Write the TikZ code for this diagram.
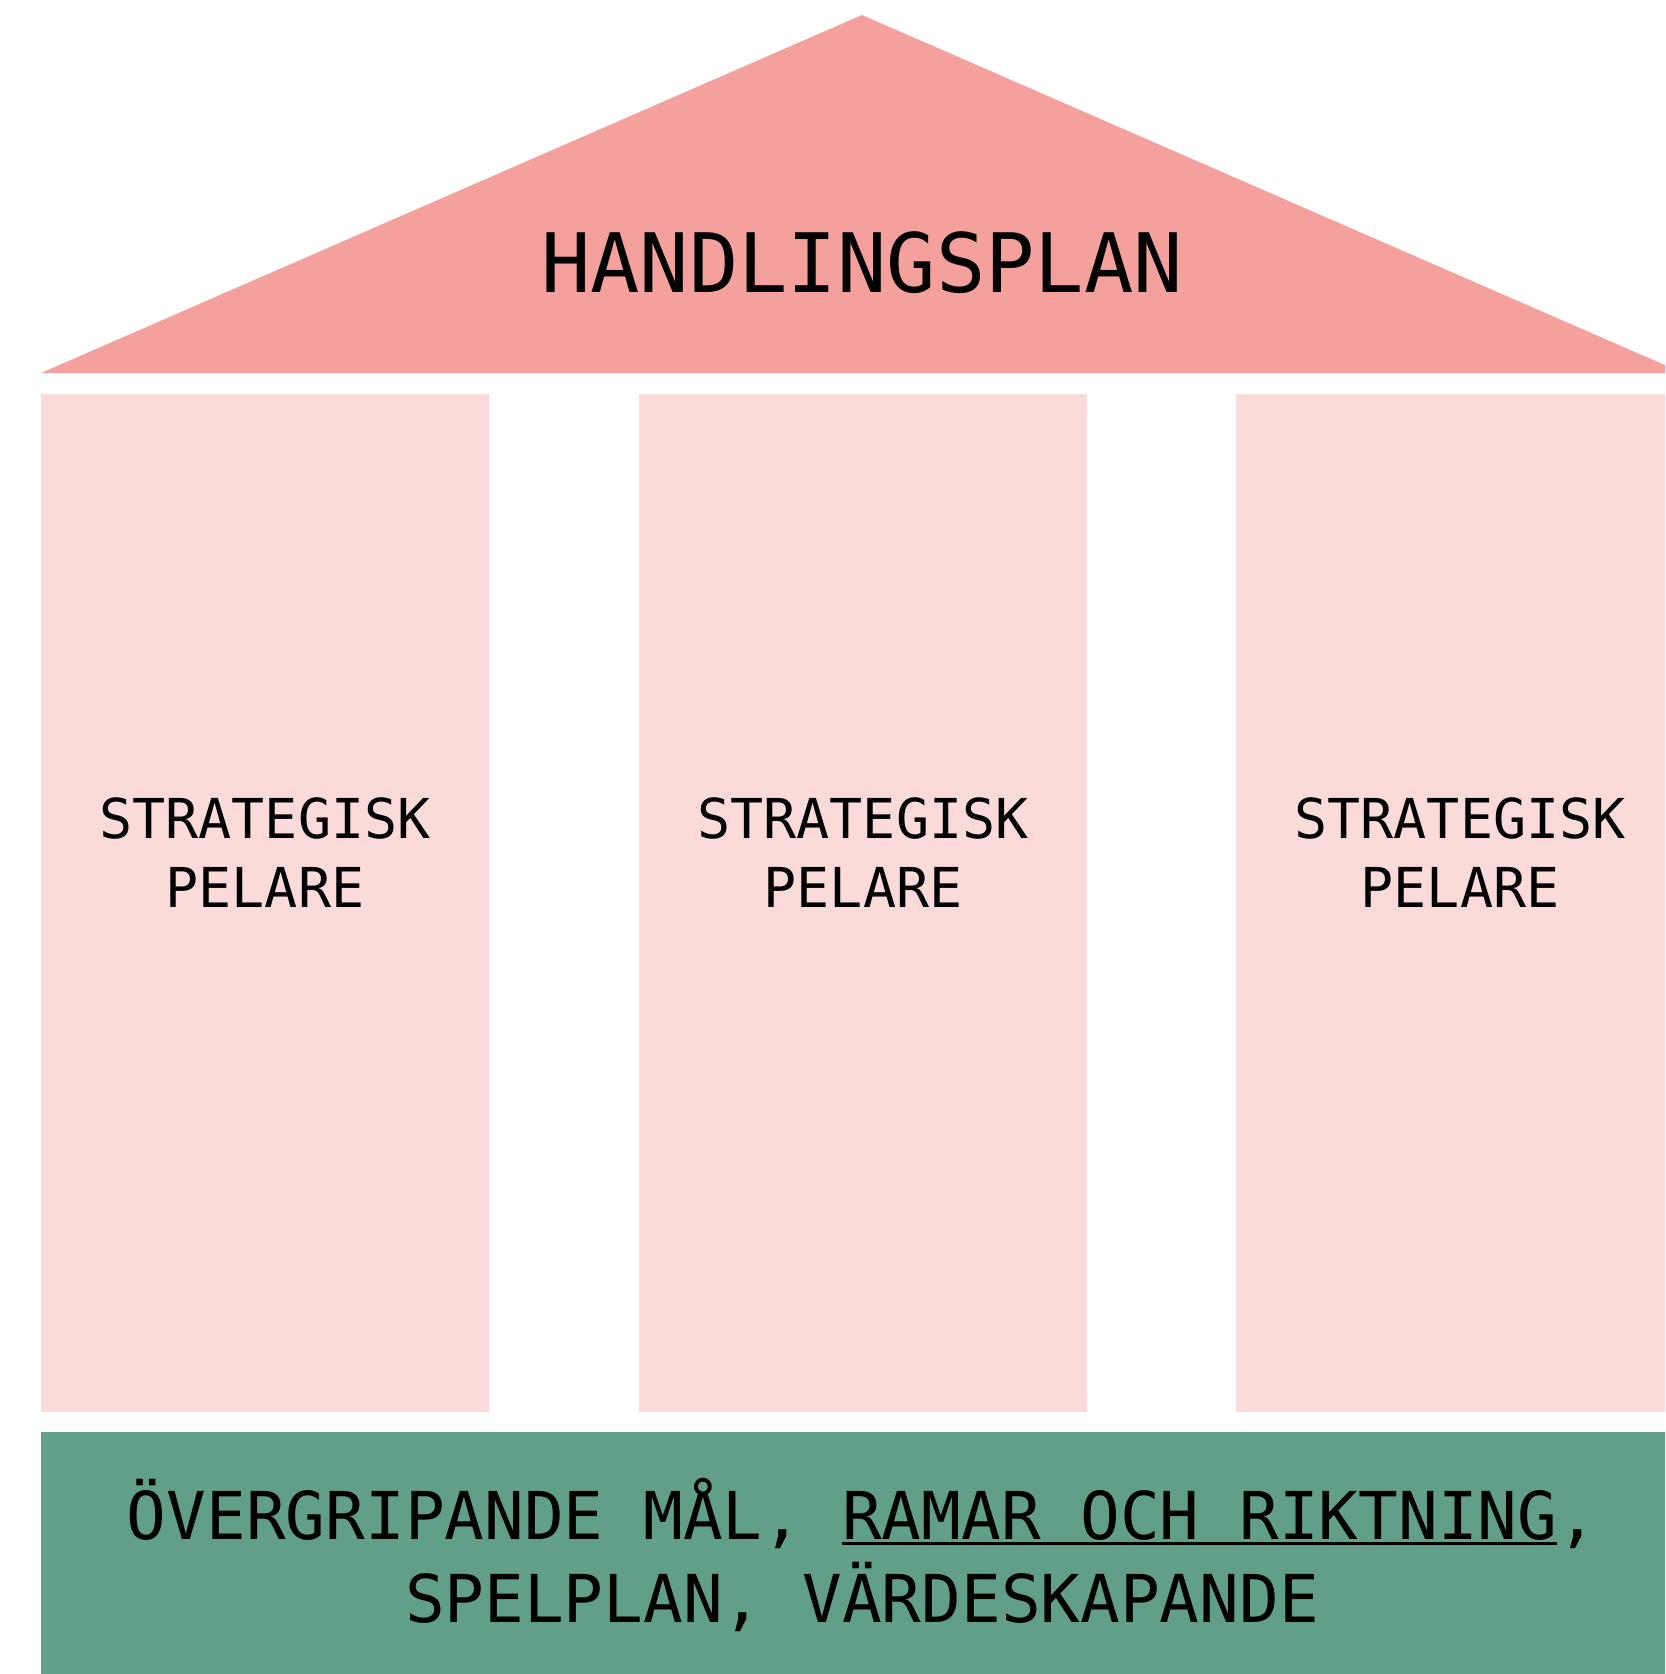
\documentclass[tikz,border=0pt]{standalone}
\usepackage{fontspec}
\newfontfamily\plexmono{DejaVu Sans Mono}

\definecolor{roofred}{RGB}{244,161,157}
\definecolor{pillarpink}{RGB}{250,219,217}
\definecolor{basegreen}{RGB}{98,159,136}

\newcommand{\strecka}[1]{\setbox0=\hbox{#1}\rlap{\rule[-3.0pt]{\wd0}{1.3pt}}\box0}

\tikzset{every picture/.style={line width=0.75pt}}
\tikzset{
  rooftext/.style={anchor=base, inner sep=0pt, font=\plexmono\fontsize{41}{50}\selectfont},
  pelartext/.style={anchor=base, inner sep=0pt, align=center, font=\plexmono\fontsize{27.5}{34.5}\selectfont},
  basetext/.style={anchor=base, inner sep=0pt, align=center, font=\plexmono\fontsize{33}{41.5}\selectfont}
}

\begin{document}
\begin{tikzpicture}[x=0.5pt,y=0.5pt,yscale=-1,xscale=1]
	\useasboundingbox (0,0) rectangle (1665,1674);
	\clip (0,0) rectangle (1665,1674);

	%Shape: Triangle [id:roof] 
	\fill [roofred] (41,373) -- (862,15) -- (1683,373) -- cycle ;
	%Shape: Rectangle [id:pillars] 
	\foreach \px in {41,639,1236}
		\fill [pillarpink] (\px,394) rectangle ++(448,1018) ;
	%Shape: Rectangle [id:base] 
	\fill [basegreen] (41,1432) rectangle (1684,1680) ;

	% Text Node
	\node [rooftext] (roof) at (862,293) {HANDLINGSPLAN};
	% Text Node
	\foreach \cx/\name in {265/pelare1,863/pelare2,1460/pelare3}
		\node [pelartext] (\name) at (\cx,907) {STRATEGISK\\PELARE};
	% Text Node
	\node [basetext] (grund) at (862,1622) {ÖVERGRIPANDE MÅL, \strecka{RAMAR OCH RIKTNING},\\SPELPLAN, VÄRDESKAPANDE};

\end{tikzpicture}
\end{document}
